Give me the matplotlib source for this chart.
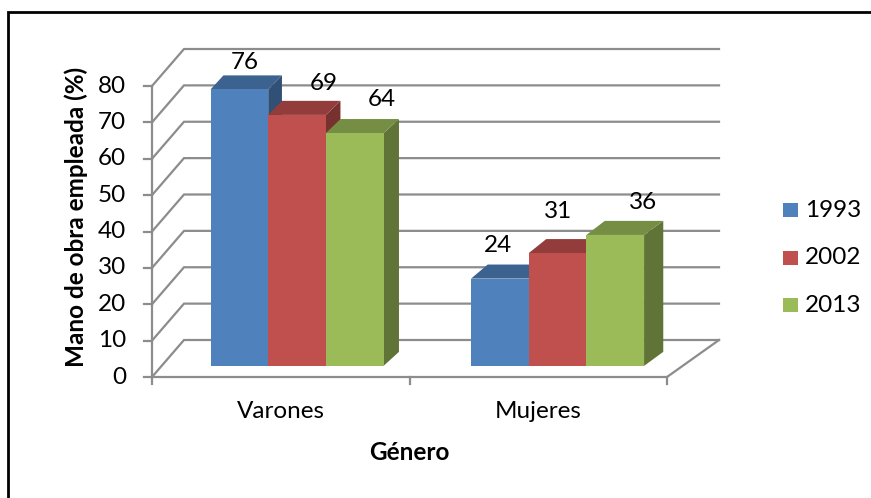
import numpy as np
import matplotlib.pyplot as plt
from matplotlib.patches import Polygon, Rectangle
from matplotlib.colors import to_rgb

# Mano de obra empleada por género (%)
categories = ['Varones', 'Mujeres']
years = ['1993', '2002', '2013']
v1993 = [76, 24]
v2002 = [69, 31]
v2013 = [64, 36]
yticks = [0, 10, 20, 30, 40, 50, 60, 70, 80]

series = [v1993, v2002, v2013]
colors = ['#4F81BD', '#C0504D', '#9BBB59']

plt.rcParams['font.family'] = ['Lato', 'DejaVu Sans']
FS = 17.5

W, H, DPI = 871, 498, 100
fig = plt.figure(figsize=(W / DPI, H / DPI), dpi=DPI)
ax = fig.add_axes([0, 0, 1, 1])
ax.axis('off')

# pixel scale of the plot box: one category = PX_X px, one percent = PX_Y px
X0, Y0 = 152, 377
PX_X = 257.5
PX_Y = (377 - 86) / 80
ax.set_xlim(-X0 / PX_X, (W - X0) / PX_X)
ax.set_ylim(-(H - Y0) / PX_Y, Y0 / PX_Y)

DEPTH_Y = 37 / PX_Y


def proj(x, y, z):
    # oblique view with a bit of perspective: depth shifts more on the right
    dx = z * (32 + 10 * x) / PX_X
    return x + dx, y + z * DEPTH_Y


grid_c = '#8c8c8c'
ymax = yticks[-1]
ncat = len(categories)

# back wall, side wall and front axis
for t in yticks:
    a = proj(0, t, 0)
    b = proj(0, t, 1)
    c = proj(ncat, t, 1)
    ax.plot([a[0], b[0], c[0]], [a[1], b[1], c[1]], color=grid_c, lw=1.6,
            zorder=1, solid_joinstyle='miter')
    ax.plot([a[0] - 8 / PX_X, a[0]], [a[1], a[1]], color=grid_c, lw=1.6, zorder=1)
    ax.text(a[0] - 26 / PX_X, t, str(t), ha='right', va='center', fontsize=FS)
ax.plot([0, 0], [0, ymax], color=grid_c, lw=1.6, zorder=1)

# floor outline
f = [proj(0, 0, 0), proj(ncat, 0, 0), proj(ncat, 0, 1)]
ax.plot([p[0] for p in f], [p[1] for p in f], color=grid_c, lw=1.6, zorder=1)
for i in range(ncat + 1):
    ax.plot([i, i], [0, -7 / PX_Y], color=grid_c, lw=1.6, zorder=1)

# 3-D bars
bw = 0.2214
z0, z1 = 0.30, 0.68
shift = 0.02
# label nudges in px (dx, dy)
nudge = [[(-2, 4), (19, 0), (19, -2)], [(-11, -2), (-9, -10), (18, -1)]]


def shade(col, k):
    return tuple(np.array(to_rgb(col)) * k)


for ci in range(ncat):
    for si, vals in enumerate(series):
        v = vals[ci]
        xl = ci + 0.5 + shift + (si - 1.5) * bw
        xr = xl + bw
        col = colors[si]
        front = [proj(xl, 0, z0), proj(xr, 0, z0), proj(xr, v, z0), proj(xl, v, z0)]
        top = [proj(xl, v, z0), proj(xr, v, z0), proj(xr, v, z1), proj(xl, v, z1)]
        side = [proj(xr, 0, z0), proj(xr, 0, z1), proj(xr, v, z1), proj(xr, v, z0)]
        ax.add_patch(Polygon(side, closed=True, fc=shade(col, 0.62), ec='none', zorder=3))
        ax.add_patch(Polygon(top, closed=True, fc=shade(col, 0.76), ec='none', zorder=3))
        ax.add_patch(Polygon(front, closed=True, fc=col, ec='none', zorder=3))
        lx, ly = proj((xl + xr) / 2, v, 0.5)
        ndx, ndy = nudge[ci][si]
        ax.text(lx + ndx / PX_X, ly + (24 - ndy) / PX_Y, str(v), ha='center',
                va='center', fontsize=FS, zorder=5)

# category labels and axis titles
for ci, name in enumerate(categories):
    ax.text(ci + 0.5, -34 / PX_Y, name, ha='center', va='center', fontsize=FS)
ax.text(ncat / 2, -75 / PX_Y, 'Género', ha='center', va='center',
        fontsize=FS, fontweight='bold')
ax.text(-76 / PX_X, 160 / PX_Y, 'Mano de obra empleada (%)', rotation=90,
        ha='center', va='center', fontsize=FS, fontweight='bold')

# legend
for si, yr in enumerate(years):
    lyp = (Y0 - (210 + 47.5 * si)) / PX_Y
    lxp = (783 - X0) / PX_X
    ax.add_patch(Rectangle((lxp, lyp - 7 / PX_Y), 15 / PX_X, 14 / PX_Y,
                           fc=colors[si], ec='none'))
    ax.text((805 - X0) / PX_X, lyp, yr, ha='left', va='center', fontsize=FS)

# chart border
ax.add_patch(Rectangle((-(X0 - 8) / PX_X, -(H + 20 - Y0) / PX_Y),
                       (W + 20) / PX_X, (H + 8) / PX_Y,
                       fc='none', ec='black', lw=2, clip_on=True))

fig.savefig('out.png', dpi=DPI)
